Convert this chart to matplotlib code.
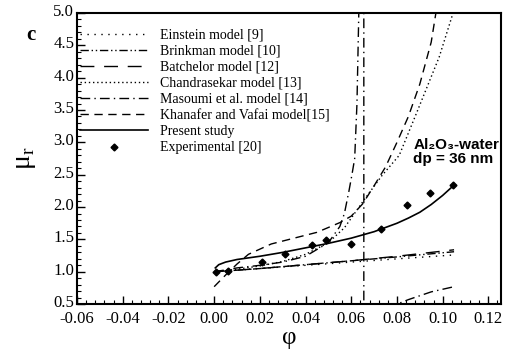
import matplotlib
matplotlib.use("Agg")
import matplotlib.pyplot as plt
from matplotlib.ticker import MultipleLocator
from matplotlib.transforms import ScaledTranslation

plt.rcParams['font.family'] = 'serif'
plt.rcParams['font.serif'] = ['Liberation Serif', 'DejaVu Serif']
plt.rcParams['axes.unicode_minus'] = False

# values
phi_lin = [0.0, 0.02, 0.04, 0.06, 0.08, 0.105]
einstein = [1.0, 1.05, 1.10, 1.15, 1.20, 1.26]
brinkman = [1.0, 1.05, 1.11, 1.17, 1.23, 1.31]
batchelor = [1.0, 1.05, 1.11, 1.17, 1.24, 1.34]

phi_chandra = [0.0, 0.01, 0.02, 0.03, 0.04, 0.05, 0.057, 0.066, 0.0735, 0.081, 0.089, 0.0985, 0.105]
chandra = [1.0, 1.04, 1.09, 1.16, 1.27, 1.45, 1.68, 2.13, 2.49, 2.80, 3.49, 4.32, 5.05]

phi_masoumi = [0.0, 0.01, 0.02, 0.03, 0.04, 0.05, 0.055, 0.057, 0.059, 0.0603, 0.0615, 0.0625, 0.0633, 0.064,
               0.0655, 0.0655, 0.075, 0.08, 0.085, 0.09, 0.095, 0.1, 0.105]
masoumi = [1.0, 1.06, 1.10, 1.15, 1.24, 1.45, 1.70, 1.90, 2.25, 2.50, 2.75, 3.60, 5.0, 7.0,
           60.0, -60.0, 0.1, 0.5, 0.57, 0.63, 0.69, 0.73, 0.77]

phi_khan = [0.0, 0.005, 0.01, 0.015, 0.025, 0.035, 0.045, 0.055, 0.06, 0.065, 0.07, 0.075, 0.08, 0.085, 0.09, 0.095, 0.0975]
khanafer = [0.77, 0.95, 1.12, 1.27, 1.43, 1.52, 1.61, 1.76, 1.86, 2.05, 2.33, 2.62, 3.0, 3.4, 3.9, 4.55, 5.1]

phi_present = [0.0005, 0.002, 0.005, 0.01, 0.02, 0.03, 0.04, 0.05, 0.06, 0.07, 0.08, 0.085, 0.09, 0.095, 0.1, 0.105]
present = [1.06, 1.11, 1.15, 1.19, 1.24, 1.30, 1.37, 1.44, 1.52, 1.62, 1.75, 1.83, 1.92, 2.04, 2.18, 2.34]

phi_exp = [0.001, 0.006, 0.021, 0.031, 0.043, 0.049, 0.060, 0.0728, 0.0845, 0.0943, 0.1047]
mu_exp = [1.0, 1.02, 1.15, 1.28, 1.41, 1.49, 1.43, 1.66, 2.03, 2.21, 2.34]

fig = plt.figure(figsize=(5.07, 3.5), dpi=100)
ax = fig.add_axes([0.152, 0.131, 0.836, 0.832])

ax.plot(phi_lin, einstein, color='k', lw=1.0, ls=(0, (1, 4)), label='Einstein model [9]')
ax.plot(phi_lin, brinkman, color='k', lw=1.0, ls=(0, (6, 2, 1, 2, 1, 2)), label='Brinkman model [10]')
ax.plot(phi_lin, batchelor, color='k', lw=1.0, ls=(0, (10, 7)), label='Batchelor model [12]')
ax.plot(phi_chandra, chandra, color='k', lw=1.0, ls=(0, (1, 2)), label='Chandrasekar model [13]')
ax.plot(phi_masoumi, masoumi, color='k', lw=1.0, ls=(0, (7, 3, 1, 3)), label='Masoumi et al. model [14]')
ax.plot(phi_khan, khanafer, color='k', lw=1.0, ls=(0, (6, 4)), label='Khanafer and Vafai model[15]')
ax.plot(phi_present, present, color='k', lw=1.2, ls='-', label='Present study')
ax.plot(phi_exp, mu_exp, 'D', color='k', ms=3.5, ls='none', label='Experimental [20]')

ax.set_xlim(-0.06, 0.1255)
ax.set_ylim(0.5, 5.0)
ax.xaxis.set_major_locator(MultipleLocator(0.02))
ax.xaxis.set_minor_locator(MultipleLocator(0.004))
ax.yaxis.set_major_locator(MultipleLocator(0.5))
ax.yaxis.set_minor_locator(MultipleLocator(0.1))
ax.xaxis.set_major_formatter(plt.FuncFormatter(lambda v, p: '%.2f' % v))
ax.yaxis.set_major_formatter(plt.FuncFormatter(lambda v, p: '%.1f' % v))
ax.tick_params(which='both', direction='in', top=False, right=False, labelsize=12)
ax.tick_params(axis='x', pad=5)
ax.tick_params(axis='y', pad=2)
ax.tick_params(which='major', length=6, width=1)
ax.tick_params(which='minor', length=3, width=0.8)
# nudge y labels up a little, like the reference
shift = ScaledTranslation(0, 3 / 100, fig.dpi_scale_trans)
for lab in ax.yaxis.get_majorticklabels():
    lab.set_transform(lab.get_transform() + shift)
for s in ax.spines.values():
    s.set_linewidth(1.5)

ax.set_xlabel('φ', fontsize=18, labelpad=0)
ax.set_ylabel('μ$_\\mathregular{r}$', fontsize=20, labelpad=11)

fig.text(0.06, 0.9, 'c', fontsize=15, fontweight='bold', ha='center', va='center')
fig.text(0.815, 0.566, 'Al₂O₃-water\ndp = 36 nm', fontsize=11, fontweight='bold',
         family=['Liberation Sans', 'DejaVu Sans'], ha='left', va='center', linespacing=1.05)

ax.legend(loc='upper left', bbox_to_anchor=(0.157, 0.918), bbox_transform=fig.transFigure,
          frameon=False, fontsize=10, handlelength=4.9, handletextpad=0.9, labelspacing=0.22,
          borderpad=0, borderaxespad=0)

fig.savefig('out.png', dpi=100)
